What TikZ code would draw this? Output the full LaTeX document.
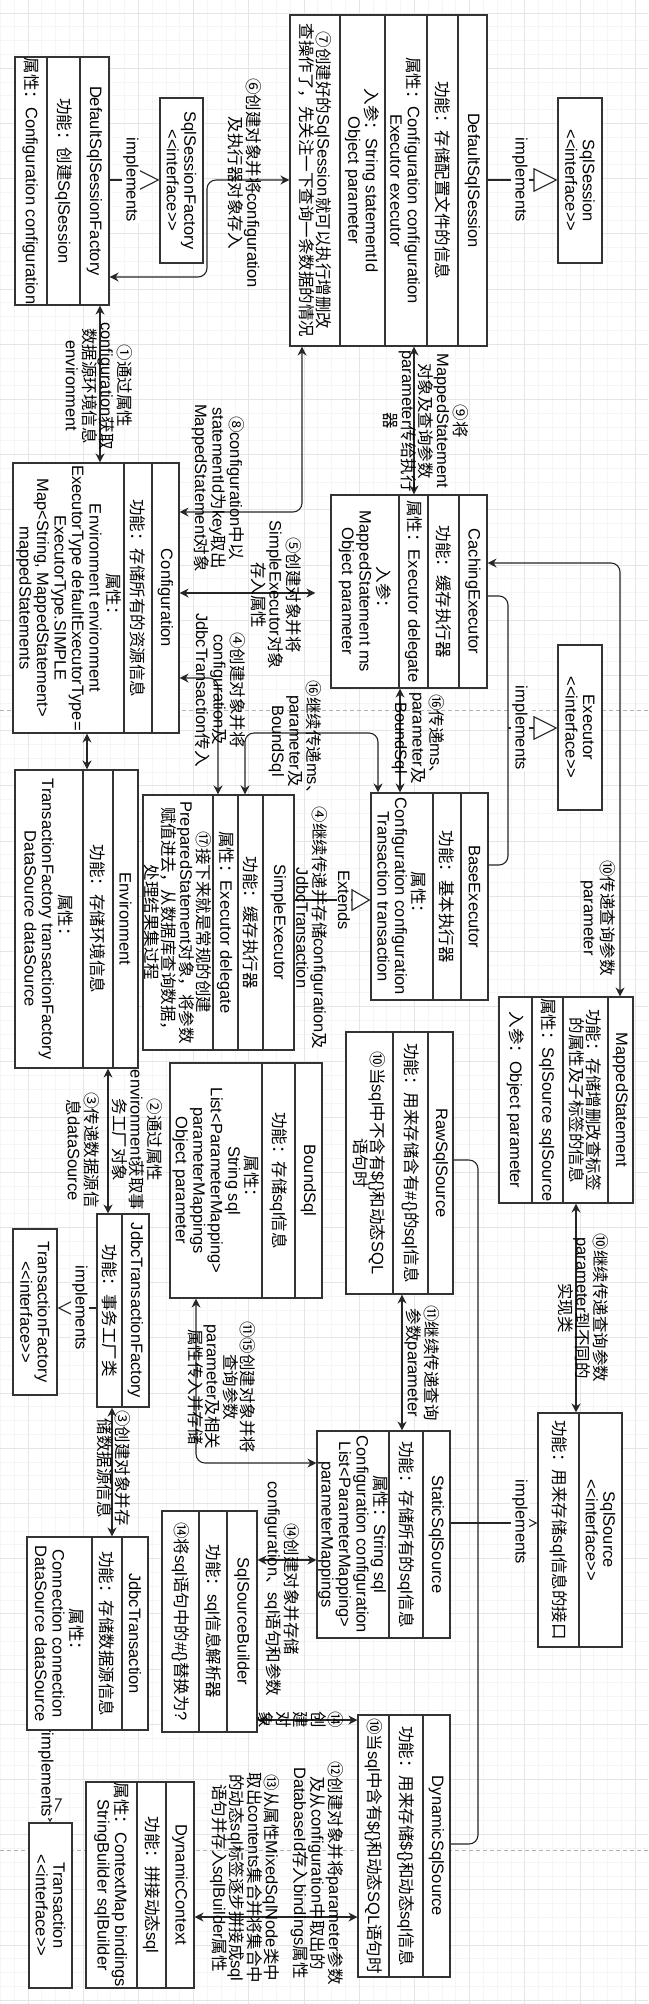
\documentclass[tikz,border=0pt]{standalone}
\usepackage{fontspec}
\setmainfont{Liberation Sans}
\newfontfamily\cjk{Noto Sans CJK SC}
\usetikzlibrary{arrows.meta}

% Chinese runs switch to the CJK font by themselves
\XeTeXinterchartokenstate=1
\newXeTeXintercharclass\cjkclass
\newcount\cjkc
\def\cjkrange#1#2{\cjkc=#1\relax
  \loop\XeTeXcharclass\cjkc=\cjkclass\relax\advance\cjkc by 1\relax
  \ifnum\cjkc<#2\relax\repeat}
\cjkrange{"2460}{"2500}
\cjkrange{"3000}{"3040}
\cjkrange{"4E00}{"A000}
\cjkrange{"FF00}{"FFF0}
\XeTeXinterchartoks 0 \cjkclass={\begingroup\cjk}
\XeTeXinterchartoks 4095 \cjkclass={\begingroup\cjk}
\XeTeXinterchartoks \cjkclass 0={\endgroup}
\XeTeXinterchartoks \cjkclass 4095={\endgroup}

\tikzset{
  cls/.style={draw=black!80,line width=1.1pt,fill=white,inner sep=0pt},
  divider/.style={draw=black!80,line width=1.1pt},
  txt/.style={rotate=-90,align=center,inner sep=0pt,font=\fontsize{16.5}{17.5}\selectfont},
  lbl/.style={txt},
  implbl/.style={txt,fill=white,inner sep=1pt},
  link/.style={<->,draw=black!85,line width=1.1pt,rounded corners=9pt},
  wire/.style={draw=black!85,line width=1.1pt,rounded corners=9pt},
  impl/.style={wire,-{Triangle[length=24pt,width=24pt,fill=white]}},
  extd/.style={wire,-{Triangle[length=19pt,width=22pt,fill=white]}},
  gridminor/.style={draw=black!4,line width=0.6pt},
  gridmajor/.style={draw=black!10,line width=0.6pt},
  pagebreak/.style={draw=black!30,line width=0.8pt,dash pattern=on 4pt off 3pt},
}

\begin{document}
\begin{tikzpicture}[x=1pt,y=-1pt,>={Stealth[length=9pt,width=9pt]}]
\fill[white] (0,0) rectangle (648,2004);
\useasboundingbox (0,0) rectangle (648,2004);

% background grid
\foreach \k in {0,...,46} \draw[gridminor] ({0.3+13.8*\k},0) -- ++(0,2004);
\foreach \k in {0,...,145} \draw[gridminor] (0,{-0.9+13.8*\k}) -- ++(648,0);
\foreach \k in {0,...,11} \draw[gridmajor] ({27.9+55.2*\k},0) -- ++(0,2004);
\foreach \k in {0,...,36} \draw[gridmajor] (0,{12.9+55.2*\k}) -- ++(648,0);
\draw[pagebreak] (0,710) -- (648,710);
\draw[pagebreak] (0,1850) -- (648,1850);

% DefaultSqlSessionFactory
\node[cls,minimum width=94,minimum height=248] (dssf) at (62,181) {};
\foreach \d in {80,47} \draw[divider] (dssf.north -| \d,0) -- (dssf.south -| \d,0);
\node[txt] (dssf-t) at (94.5,181) {DefaultSqlSessionFactory};
\node[txt] (dssf-f) at (63.5,181) {功能：创建SqlSession};
\node[txt] (dssf-a) at (31,181) {属性：Configuration configuration};

% SqlSessionFactory
\node[cls,minimum width=43,minimum height=165] (ssfi) at (181.5,180.5) {};
\node[txt] (ssfi-t) at (181.5,180.5) {SqlSessionFactory\\<{}<interface>{}>};

% DefaultSqlSession
\node[cls,minimum width=197,minimum height=331] (dss) at (388.5,180.5) {};
\foreach \d in {458,427,385,340} \draw[divider] (dss.north -| \d,0) -- (dss.south -| \d,0);
\node[txt] (dss-t) at (472.5,180.5) {DefaultSqlSession};
\node[txt] (dss-f) at (442.5,180.5) {功能：存储配置文件的信息};
\node[txt] (dss-a) at (406,180.5) {属性：Configuration configuration\\Executor executor};
\node[txt] (dss-p) at (362.5,180.5) {入参：String statementId\\Object parameter};
\node[txt] (dss-n) at (315,180.5) {⑦创建好的SqlSession就可以执行增删改\\查操作了，先关注一下查询一条数据的情况};

% SqlSession
\node[cls,minimum width=44,minimum height=165] (ssi) at (580,180.5) {};
\node[txt] (ssi-t) at (580,180.5) {SqlSession\\<{}<interface>{}>};

% Configuration
\node[cls,minimum width=166,minimum height=270] (cfg) at (96,598) {};
\foreach \d in {152,124} \draw[divider] (cfg.north -| \d,0) -- (cfg.south -| \d,0);
\node[txt] (cfg-t) at (165.5,598) {Configuration};
\node[txt] (cfg-f) at (138,598) {功能：存储所有的资源信息};
\node[txt] (cfg-a) at (68.5,598) {属性：\\Environment environment\\ExecutorType defaultExecutorType=\\ExecutorType.SIMPLE\\Map<String, MappedStatement>\\mappedStatements};

% CachingExecutor
\node[cls,minimum width=156,minimum height=193] (cex) at (409,591.5) {};
\foreach \d in {459,428,399} \draw[divider] (cex.north -| \d,0) -- (cex.south -| \d,0);
\node[txt] (cex-t) at (473,591.5) {CachingExecutor};
\node[txt] (cex-f) at (443.5,591.5) {功能：缓存执行器};
\node[txt] (cex-a) at (413.5,591.5) {属性：Executor delegate};
\node[txt] (cex-p) at (365,591.5) {入参：\\MappedStatement ms\\Object parameter};

% Executor
\node[cls,minimum width=44,minimum height=165] (exi) at (580,727.5) {};
\node[txt] (exi-t) at (580,727.5) {Executor\\<{}<interface>{}>};

% Environment
\node[cls,minimum width=123,minimum height=298] (env) at (76.5,919) {};
\foreach \d in {113,83} \draw[divider] (env.north -| \d,0) -- (env.south -| \d,0);
\node[txt] (env-t) at (125.5,919) {Environment};
\node[txt] (env-f) at (98,919) {功能：存储环境信息};
\node[txt] (env-a) at (49,919) {属性：\\TransactionFactory transactionFactory\\DataSource dataSource};

% SimpleExecutor
\node[cls,minimum width=151,minimum height=255] (sex) at (218.5,922.5) {};
\foreach \d in {263,238,213} \draw[divider] (sex.north -| \d,0) -- (sex.south -| \d,0);
\node[txt] (sex-t) at (278.5,922.5) {SimpleExecutor};
\node[txt] (sex-f) at (250.5,922.5) {功能：缓存执行器};
\node[txt] (sex-a) at (225.5,922.5) {属性：Executor delegate};
\node[txt] (sex-n) at (178,922.5) {⑰接下来就是常规的创建\\PreparedStatement对象，将参数\\赋值进去，从数据库查询数据，\\处理结果集过程};

% BaseExecutor
\node[cls,minimum width=117,minimum height=207] (bex) at (429.5,896.5) {};
\foreach \d in {461,433} \draw[divider] (bex.north -| \d,0) -- (bex.south -| \d,0);
\node[txt] (bex-t) at (474.5,896.5) {BaseExecutor};
\node[txt] (bex-f) at (447,896.5) {功能：基本执行器};
\node[txt] (bex-a) at (402,896.5) {属性：\\Configuration configuration\\Transaction transaction};

% MappedStatement
\node[cls,minimum width=134,minimum height=206] (mst) at (566,1100) {};
\foreach \d in {608,563,532} \draw[divider] (mst.north -| \d,0) -- (mst.south -| \d,0);
\node[txt] (mst-t) at (620.5,1100) {MappedStatement};
\node[txt] (mst-f) at (585.5,1100) {功能：存储增删改查标签\\的属性及子标签的信息};
\node[txt] (mst-a) at (547.5,1100) {属性：SqlSource sqlSource};
\node[txt] (mst-p) at (515.5,1100) {入参：Object parameter};

% BoundSql
\node[cls,minimum width=152,minimum height=235] (bsq) at (246,1180.5) {};
\foreach \d in {295,262} \draw[divider] (bsq.north -| \d,0) -- (bsq.south -| \d,0);
\node[txt] (bsq-t) at (308.5,1180.5) {BoundSql};
\node[txt] (bsq-f) at (278.5,1180.5) {功能：存储sql信息};
\node[txt] (bsq-a) at (216,1180.5) {属性：\\String sql\\List<ParameterMapping>\\parameterMappings\\Object parameter};

% RawSqlSource
\node[cls,minimum width=107,minimum height=262] (rss) at (399.5,1163) {};
\foreach \d in {428,393} \draw[divider] (rss.north -| \d,0) -- (rss.south -| \d,0);
\node[txt] (rss-t) at (440.5,1163) {RawSqlSource};
\node[txt] (rss-f) at (410.5,1163) {功能：用来存储含有\#\{\}的sql信息};
\node[txt] (rss-n) at (369.5,1163) {⑩当sql中不含有\$\{\}和动态SQL\\语句时};

% JdbcTransactionFactory
\node[cls,minimum width=52,minimum height=193] (jtf) at (123,1310.5) {};
\draw[divider] (jtf.north -| 122,0) -- (jtf.south -| 122,0);
\node[txt] (jtf-t) at (135.5,1310.5) {JdbcTransactionFactory};
\node[txt] (jtf-f) at (109.5,1310.5) {功能：事务工厂类};

% TransactionFactory
\node[cls,minimum width=44,minimum height=166] (tfi) at (35,1312) {};
\node[txt] (tfi-t) at (35,1312) {TransactionFactory\\<{}<interface>{}>};

% SqlSource
\node[cls,minimum width=84,minimum height=234] (sqs) at (580,1530) {};
\draw[divider] (sqs.north -| 579,0) -- (sqs.south -| 579,0);
\node[txt] (sqs-t) at (600.5,1530) {SqlSource\\<{}<interface>{}>};
\node[txt] (sqs-f) at (558.5,1530) {功能：用来存储sql信息的接口};

% StaticSqlSource
\node[cls,minimum width=133,minimum height=207] (sss) at (383.5,1534.5) {};
\foreach \d in {423,389} \draw[divider] (sss.north -| \d,0) -- (sss.south -| \d,0);
\node[txt] (sss-t) at (436.5,1534.5) {StaticSqlSource};
\node[txt] (sss-f) at (406,1534.5) {功能：存储所有的sql信息};
\node[txt] (sss-a) at (353,1534.5) {属性：String sql\\Configuration configuration\\List<ParameterMapping>\\parameterMappings};

% JdbcTransaction
\node[cls,minimum width=121,minimum height=193] (jtr) at (87.5,1633.5) {};
\foreach \d in {122,92} \draw[divider] (jtr.north -| \d,0) -- (jtr.south -| \d,0);
\node[txt] (jtr-t) at (135,1633.5) {JdbcTransaction};
\node[txt] (jtr-f) at (107,1633.5) {功能：存储数据源信息};
\node[txt] (jtr-a) at (59.5,1633.5) {属性：\\Connection connection\\DataSource dataSource};

% SqlSourceBuilder
\node[cls,minimum width=95,minimum height=221] (ssb) at (209.5,1621.5) {};
\foreach \d in {227,199} \draw[divider] (ssb.north -| \d,0) -- (ssb.south -| \d,0);
\node[txt] (ssb-t) at (242,1621.5) {SqlSourceBuilder};
\node[txt] (ssb-f) at (213,1621.5) {功能：sql信息解析器};
\node[txt] (ssb-n) at (180.5,1621.5) {⑭将sql语句中的\#\{\}替换为?};

% DynamicSqlSource
\node[cls,minimum width=92,minimum height=262] (dyn) at (404,1846) {};
\foreach \d in {423,389} \draw[divider] (dyn.north -| \d,0) -- (dyn.south -| \d,0);
\node[txt] (dyn-t) at (436.5,1846) {DynamicSqlSource};
\node[txt] (dyn-f) at (406,1846) {功能：用来存储\$\{\}和动态sql信息};
\node[txt] (dyn-n) at (373.5,1846) {⑩当sql中含有\$\{\}和动态SQL语句时};

% Transaction
\node[cls,minimum width=43,minimum height=165] (tri) at (50.5,1905.5) {};
\node[txt] (tri-t) at (50.5,1905.5) {Transaction\\<{}<interface>{}>};

% DynamicContext
\node[cls,minimum width=108,minimum height=206] (dct) at (140,1885) {};
\foreach \d in {166,137} \draw[divider] (dct.north -| \d,0) -- (dct.south -| \d,0);
\node[txt] (dct-t) at (180,1885) {DynamicContext};
\node[txt] (dct-f) at (151.5,1885) {功能：拼接动态sql};
\node[txt] (dct-a) at (111.5,1885) {属性：ContextMap bindings\\StringBuilder sqlBuilder};

% call chain
\draw[link] (dssf.south -| 100,0) -- (cfg.north -| 100,0);
\draw[link] (dssf.east |- 0,277) -| (207,180) -- (dss.west |- 0,180);
\draw[link] (dss.south -| 302,0) |- (cfg.east |- 0,512);
\draw[link,shorten >=15pt] (cfg.east |- 0,593) -- (cex.west |- 0,593);
\draw[link] (cfg.east |- 0,678) -| (sex.north -| 218,0);
\draw[link] (dss.south -| 414,0) -- (cex.north -| 414,0);
\draw[link] (cfg.south -| 87,0) -- (env.north -| 87,0);
\draw[link] (cex.south -| 400,0) -- (bex.north -| 400,0);
\draw[link] (bex.north -| 378,0) -- (378,733) -| (sex.north -| 245,0);
\draw[link] (cex.east |- 0,563) -| (mst.north -| 620,0);
\draw[link] (mst.south -| 576,0) -- (sqs.north -| 576,0);
\draw[link] (rss.south -| 402,0) -- (sss.north -| 402,0);
\draw[link] (bsq.south -| 196,0) |- (sss.west |- 0,1463);
\draw[link] (env.south -| 108,0) -- (jtf.north -| 108,0);
\draw[link] (jtf.south -| 112,0) -- (jtr.north -| 112,0);
\draw[link] (ssb.east |- 0,1560) -- (sss.west |- 0,1560);
\draw[link] (ssb.east |- 0,1720) -- (dyn.west |- 0,1720);
\draw[link] (dct.east |- 0,1917) -- (dyn.west |- 0,1917);

% implements / extends
\coordinate (exj) at (508,728);
\coordinate (sqj) at (478,1523);
\draw[impl] (dssf.east |- 0,180) -- (ssfi.west |- 0,180);
\draw[impl] (dss.east |- 0,180) -- (ssi.west |- 0,180);
\draw[wire] (cex.east |- 0,596) -| (exj) |- (bex.east |- 0,865);
\draw[impl] (exj) -- (exi.west |- exj);
\draw[extd] (sex.east |- 0,900) -- (bex.west |- 0,900);
\draw[wire] (rss.east |- 0,1160) -| (sqj) |- (dyn.east |- 0,1844);
\draw[impl] (sss.east |- sqj) -- (sqs.west |- sqj);
\draw[impl] (jtf.west |- 0,1308) -- (tfi.east |- 0,1308);
\draw[impl] (jtr.south -| 50,0) -- (tri.north -| 50,0);

\node[implbl] (im1) at (131,180) {implements};
\node[implbl] (im2) at (520,180) {implements};
\node[implbl] (im3) at (520,728) {implements};
\node[implbl] (ex1) at (344,900) {Extends};
\node[implbl] (im4) at (520,1522) {implements};
\node[implbl] (im5) at (80,1308) {implements};
\node[implbl] (im6) at (46,1775) {implements};

% step labels
\node[lbl] (l1) at (99,386) {①通过属性\\configuration获取\\数据源环境信息\\environment};
\node[lbl] (l6) at (245,183) {⑥创建对象并将configuration\\及执行器对象存入};
\node[lbl] (l8) at (218,488) {⑧configuration中以\\statementId为key取出\\MappedStatement对象};
\node[lbl] (l9) at (426,421) {⑨将\\MappedStatement\\对象及查询参数\\parameter传给执行\\器};
\node[lbl] (l5) at (276,595) {⑤创建对象并将\\SimpleExecutor对象\\存入属性};
\node[lbl] (l4) at (220,690) {④创建对象并将\\configuration及\\JdbcTransaction传入};
\node[lbl] (l16a) at (418,738) {⑯传递ms、\\parameter及\\BoundSql};
\node[lbl] (l16b) at (295,741) {⑯继续传递ms、\\parameter及\\BoundSql};
\node[lbl] (l4b) at (312,928) {④继续传递并存储configuration及\\JdbcTransaction};
\node[lbl] (l10a) at (598,918) {⑩传递查询参数\\parameter};
\node[lbl] (l10b) at (583,1308) {⑩继续传递查询参数\\parameter到不同的\\实现类};
\node[lbl] (l11) at (422,1363) {⑪继续传递查询\\参数parameter};
\node[lbl] (l1115) at (222,1387) {⑪⑮创建对象并将\\查询参数\\parameter及相关\\属性传入并存储};
\node[lbl] (l2) at (137,1140) {②通过属性\\environment获取事\\务工厂对象};
\node[lbl] (l3a) at (83,1150) {③传递数据源信\\息dataSource};
\node[lbl] (l3b) at (114,1468) {③创建对象并存\\储数据源信息};
\node[lbl] (l14a) at (282,1589) {⑭创建对象并存储\\configuration、sql语句和参数};
\node[lbl] (l14b) at (301,1720) {⑭\\创\\建\\对\\象};
\node[lbl] (l12) at (317,1873) {⑫创建对象并将parameter参数\\及从configuration中取出的\\DatabaseId存入bindings属性};
\node[lbl] (l13) at (245,1878) {⑬从属性MixedSqlNode类中\\取出contents集合并将集合中\\的动态sql标签逐步拼接成sql\\语句并存入sqlBuilder属性};
\end{tikzpicture}
\end{document}
